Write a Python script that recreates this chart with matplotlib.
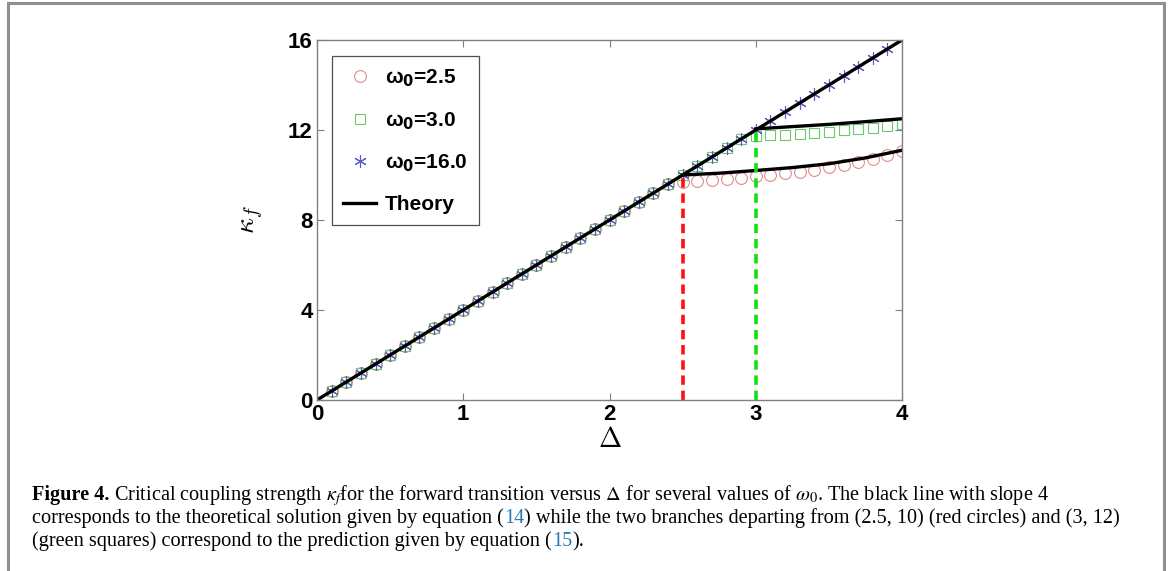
import numpy as np
import matplotlib.pyplot as plt
from matplotlib.patches import Rectangle

# Delta grid of the simulations
delta = [0.1, 0.2, 0.3, 0.4, 0.5, 0.6, 0.7, 0.8, 0.9, 1.0,
         1.1, 1.2, 1.3, 1.4, 1.5, 1.6, 1.7, 1.8, 1.9, 2.0,
         2.1, 2.2, 2.3, 2.4, 2.5, 2.6, 2.7, 2.8, 2.9, 3.0,
         3.1, 3.2, 3.3, 3.4, 3.5, 3.6, 3.7, 3.8, 3.9, 4.0]

# omega0 = 2.5 (red circles)
kf_w25 = [0.4, 0.8, 1.2, 1.6, 2.0, 2.4, 2.8, 3.2, 3.6, 4.0,
          4.4, 4.8, 5.2, 5.6, 6.0, 6.4, 6.8, 7.2, 7.6, 8.0,
          8.4, 8.8, 9.2, 9.6, 9.70, 9.73, 9.77, 9.82, 9.88, 9.94,
          10.00, 10.07, 10.15, 10.24, 10.34, 10.45, 10.57, 10.71, 10.87, 11.05]

# omega0 = 3.0 (green squares)
kf_w30 = [0.4, 0.8, 1.2, 1.6, 2.0, 2.4, 2.8, 3.2, 3.6, 4.0,
          4.4, 4.8, 5.2, 5.6, 6.0, 6.4, 6.8, 7.2, 7.6, 8.0,
          8.4, 8.8, 9.2, 9.6, 10.0, 10.4, 10.8, 11.2, 11.6, 11.72,
          11.76, 11.80, 11.84, 11.88, 11.93, 11.98, 12.04, 12.11, 12.19, 12.28]

# omega0 = 16.0 (blue stars)
kf_w160 = [0.4, 0.8, 1.2, 1.6, 2.0, 2.4, 2.8, 3.2, 3.6, 4.0,
           4.4, 4.8, 5.2, 5.6, 6.0, 6.4, 6.8, 7.2, 7.6, 8.0,
           8.4, 8.8, 9.2, 9.6, 10.0, 10.4, 10.8, 11.2, 11.6, 12.0,
           12.4, 12.8, 13.2, 13.6, 14.0, 14.4, 14.8, 15.2, 15.6, 16.0]

# theory: slope-4 line and the two branches
theory_x = [0.0, 4.0]
theory_y = [0.0, 16.0]
branch25_x = [2.5, 2.75, 3.0, 3.25, 3.5, 3.75, 4.0]
branch25_y = [10.0, 10.08, 10.2, 10.33, 10.5, 10.76, 11.1]
branch30_x = [3.0, 3.25, 3.5, 3.75, 4.0]
branch30_y = [12.05, 12.15, 12.25, 12.37, 12.5]

# critical points marked by the dashed lines
crit_x = [2.5, 3.0]
crit_y = [10.0, 12.0]

fig = plt.figure(figsize=(11.71, 5.71), dpi=100)
ax = fig.add_axes([317 / 1171, 1 - 400 / 571, 585 / 1171, 360 / 571])

ax.plot(delta, kf_w25, 'o', ms=8.5, mfc='none', mec='#e08c8c', mew=0.8,
        label='ω$_\\mathbf{0}$=2.5')
ax.plot(delta, kf_w30, 's', ms=7, mfc='none', mec='#6cc86c', mew=0.8,
        label='ω$_\\mathbf{0}$=3.0')
ax.plot(delta, kf_w160, marker=(6, 2, 0), ls='none', ms=9, mec='#5a5ac8',
        mew=0.8, label='ω$_\\mathbf{0}$=16.0')
ax.plot(theory_x, theory_y, '-', color='black', lw=2.4, label='Theory')
ax.plot(branch25_x, branch25_y, '-', color='black', lw=2.4)
ax.plot(branch30_x, branch30_y, '-', color='black', lw=2.4)

ax.plot([crit_x[0], crit_x[0]], [0, crit_y[0]], color='#ff1010', lw=2.6,
        ls=(0, (2.6, 1.6)))
ax.plot([crit_x[1], crit_x[1]], [0, crit_y[1]], color='#10e010', lw=2.6,
        ls=(0, (2.6, 1.6)))

ax.set_xlim(0, 4)
ax.set_ylim(0, 16)
ax.set_xticks([0, 1, 2, 3, 4])
ax.set_yticks([0, 4, 8, 12, 16])
ax.tick_params(direction='in', top=True, right=True, length=5, width=0.8,
               color='#808080', labelsize=16, pad=3)
for lab in ax.get_xticklabels() + ax.get_yticklabels():
    lab.set_fontweight('bold')
    lab.set_fontfamily('Liberation Sans')
for s in ax.spines.values():
    s.set_color('#808080')
    s.set_linewidth(1.0)

ax.set_xlabel(r'$\Delta$', fontsize=20, math_fontfamily='cm', labelpad=0)
ax.set_ylabel(r'$\kappa_f$', fontsize=20, math_fontfamily='cm', labelpad=16)

leg = ax.legend(loc='upper left', bbox_to_anchor=(0.025, 0.955),
                prop={'family': 'Liberation Sans', 'weight': 'bold', 'size': 15},
                fancybox=False, edgecolor='#505050', framealpha=1,
                handlelength=1.6, handletextpad=0.4, labelspacing=1.0,
                borderpad=0.55, borderaxespad=0)
leg.get_frame().set_linewidth(0.9)

# outer frame of the figure panel
fig.patches.append(Rectangle((8 / 1171, -0.05), 1156 / 1171, 1.05 - 3 / 571,
                             transform=fig.transFigure, fill=False,
                             edgecolor='#909090', lw=2.2, clip_on=False))

# caption, laid out piece by piece
cap_font = 'Liberation Serif'
cap_size = 14.6
blue = '#2a7ab8'
lines = [
    [('Figure 4.', 'bold', 'k'),
     (r' Critical coupling strength $\kappa_f$for the forward transition versus $\Delta$ for several values of $\omega_0$. The black line with slope 4', 'normal', 'k')],
    [('corresponds to the theoretical solution given by equation (', 'normal', 'k'),
     ('14', 'normal', blue),
     (') while the two branches departing from (2.5, 10) (red circles) and (3, 12)', 'normal', 'k')],
    [('(green squares) correspond to the prediction given by equation (', 'normal', 'k'),
     ('15', 'normal', blue),
     (').', 'normal', 'k')],
]
line_y = [1 - 500 / 571, 1 - 523 / 571, 1 - 546 / 571]
fig.canvas.draw()
renderer = fig.canvas.get_renderer()
for segs, yy in zip(lines, line_y):
    x = 32 / 1171
    for txt, wt, col in segs:
        t = fig.text(x, yy, txt, fontsize=cap_size, family=cap_font,
                     weight=wt, color=col, va='baseline', ha='left',
                     math_fontfamily='stix')
        bb = t.get_window_extent(renderer=renderer)
        x = fig.transFigure.inverted().transform((bb.x1, bb.y0))[0]

fig.savefig('out.png', dpi=100)
